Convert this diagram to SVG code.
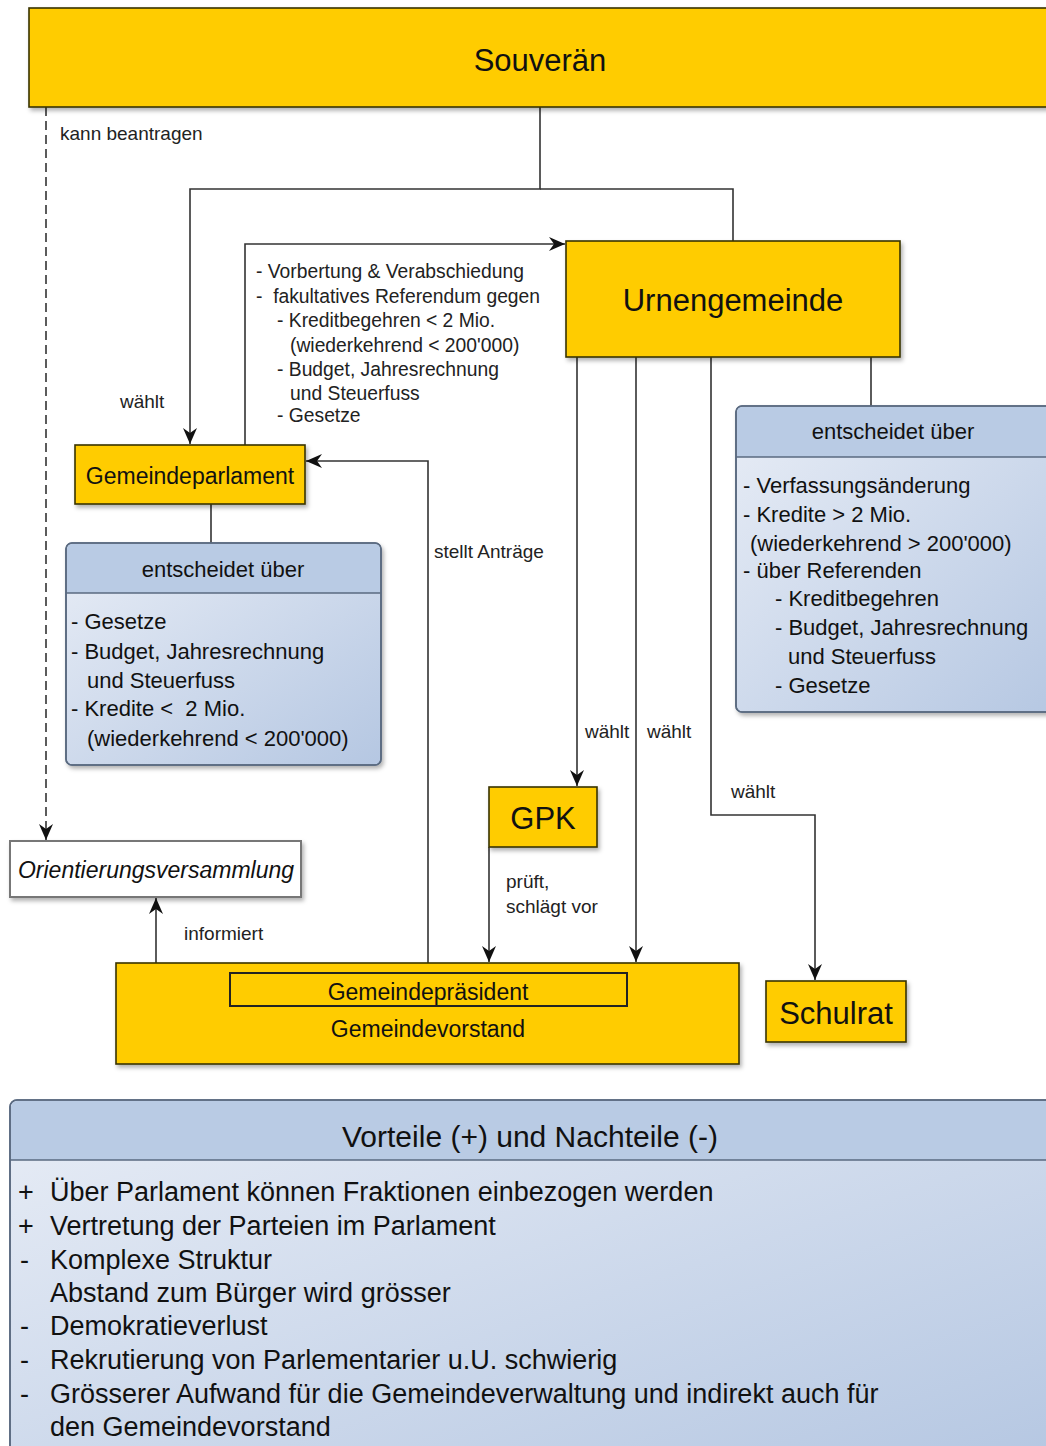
<svg xmlns="http://www.w3.org/2000/svg" width="1046" height="1446" viewBox="0 0 1046 1446">
<style>
text{font-family:"Liberation Sans",Arial,sans-serif;fill:#111}
.y{fill:#FFCC00;stroke:#3a3300;stroke-width:1.6}
.big{font-size:31px}
.mid{font-size:23px}
.lbl{font-size:19px;fill:#222}
.blk{font-size:19.3px;fill:#222;white-space:pre}
.item{font-size:22px;white-space:pre}
.bitem{font-size:27px}
.c{text-anchor:middle}
.ln{fill:none;stroke:#333;stroke-width:1.6}
.blue{stroke:#5a6a80;stroke-width:1.6}
.hdr{fill:#B9CBE4}
</style>
<defs>
<marker id="ah" markerUnits="userSpaceOnUse" markerWidth="16" markerHeight="16" viewBox="0 0 16 16" refX="16" refY="8" orient="auto">
<path d="M0,1 L16,8 L0,15 L5,8 z" fill="#111"/>
</marker>
<linearGradient id="bg" x1="0" y1="0" x2="1" y2="1">
<stop offset="0" stop-color="#E8EDF6"/>
<stop offset="1" stop-color="#B5C7E2"/>
</linearGradient>
<filter id="sh" x="-5%" y="-5%" width="115%" height="130%">
<feDropShadow dx="2" dy="3" stdDeviation="2" flood-color="#000" flood-opacity="0.3"/>
</filter>
</defs>

<g id="connectors">
<path class="ln" d="M540,107 V189 H190 V444" marker-end="url(#ah)"/>
<path class="ln" d="M540,189 H733 V241"/>
<path class="ln" d="M46,107 V840" stroke-dasharray="9,5" stroke="#555" marker-end="url(#ah)"/>
<path class="ln" d="M245,445 V244 H565" marker-end="url(#ah)"/>
<path class="ln" d="M211,504 V543"/>
<path class="ln" d="M871,357 V406"/>
<path class="ln" d="M577,357 V786" marker-end="url(#ah)"/>
<path class="ln" d="M636,357 V962" marker-end="url(#ah)"/>
<path class="ln" d="M711,357 V815 H815 V980" marker-end="url(#ah)"/>
<path class="ln" d="M489,847 V962" marker-end="url(#ah)"/>
<path class="ln" d="M428,963 V461 H306" marker-end="url(#ah)"/>
<path class="ln" d="M156,963 V898" stroke-width="2.2" stroke="#111" marker-end="url(#ah)"/>
<text class="lbl" x="60" y="140">kann beantragen</text>
<text class="lbl" x="120" y="408">wählt</text>
<text class="lbl" x="434" y="558">stellt Anträge</text>
<text class="lbl" x="585" y="738">wählt</text>
<text class="lbl" x="647" y="738">wählt</text>
<text class="lbl" x="731" y="798">wählt</text>
<text class="lbl" x="506" y="888">prüft,</text>
<text class="lbl" x="506" y="913">schlägt vor</text>
<text class="lbl" x="184" y="940">informiert</text>
<text class="blk" x="256" y="278" xml:space="preserve">- Vorbertung &amp; Verabschiedung</text>
<text class="blk" x="256" y="303" xml:space="preserve">-  fakultatives Referendum gegen</text>
<text class="blk" x="277" y="327" xml:space="preserve">- Kreditbegehren &lt; 2 Mio.</text>
<text class="blk" x="290" y="352">(wiederkehrend &lt; 200'000)</text>
<text class="blk" x="277" y="376">- Budget, Jahresrechnung</text>
<text class="blk" x="290" y="400">und Steuerfuss</text>
<text class="blk" x="277" y="422">- Gesetze</text>
</g>

<g id="souveraen">
<rect class="y" x="29" y="8" width="1030" height="99" filter="url(#sh)"/>
<text class="big c" x="540" y="71">Souverän</text>
</g>

<g id="urnengemeinde">
<rect class="y" x="566" y="241" width="334" height="116" filter="url(#sh)"/>
<text class="big c" x="733" y="311">Urnengemeinde</text>
</g>

<g id="gemeindeparlament">
<rect class="y" x="75" y="445" width="230" height="59" filter="url(#sh)"/>
<text class="mid c" x="190" y="484">Gemeindeparlament</text>
</g>

<g id="entscheidet-parlament">
<rect class="blue" x="66" y="543" width="315" height="222" rx="6" fill="url(#bg)" filter="url(#sh)"/>
<path class="hdr" d="M67,593 V549 Q67,544 72,544 H375 Q380,544 380,549 V593 Z"/>
<line class="blue" x1="66" y1="593" x2="381" y2="593"/>
<rect x="66" y="543" width="315" height="222" rx="6" fill="none" class="blue"/>
<text class="item c" x="223" y="577" fill="#222">entscheidet über</text>
<text class="item" x="71" y="629">- Gesetze</text>
<text class="item" x="71" y="659">- Budget, Jahresrechnung</text>
<text class="item" x="87" y="688">und Steuerfuss</text>
<text class="item" x="71" y="716" xml:space="preserve">- Kredite &lt;  2 Mio.</text>
<text class="item" x="87" y="746">(wiederkehrend &lt; 200'000)</text>
</g>

<g id="entscheidet-urnengemeinde">
<rect class="blue" x="736" y="406" width="330" height="306" rx="6" fill="url(#bg)" filter="url(#sh)"/>
<path class="hdr" d="M737,457 V412 Q737,407 742,407 H1066 V457 Z"/>
<line class="blue" x1="736" y1="457" x2="1066" y2="457"/>
<rect x="736" y="406" width="330" height="306" rx="6" fill="none" class="blue"/>
<text class="item c" x="893" y="439" fill="#222">entscheidet über</text>
<text class="item" x="743" y="493">- Verfassungsänderung</text>
<text class="item" x="743" y="522">- Kredite &gt; 2 Mio.</text>
<text class="item" x="750" y="551">(wiederkehrend &gt; 200'000)</text>
<text class="item" x="743" y="578">- über Referenden</text>
<text class="item" x="775" y="606">- Kreditbegehren</text>
<text class="item" x="775" y="635">- Budget, Jahresrechnung</text>
<text class="item" x="788" y="664">und Steuerfuss</text>
<text class="item" x="775" y="693">- Gesetze</text>
</g>

<g id="gpk">
<rect class="y" x="489" y="787" width="108" height="60" filter="url(#sh)"/>
<text class="big c" x="543" y="829">GPK</text>
</g>

<g id="orientierungsversammlung">
<rect x="10" y="841" width="291" height="56" fill="#fff" stroke="#777" stroke-width="2" filter="url(#sh)"/>
<text class="mid c" x="156" y="878" font-style="italic" font-size="22.5">Orientierungsversammlung</text>
</g>

<g id="gemeindevorstand">
<rect class="y" x="116" y="963" width="623" height="101" stroke="#222" stroke-width="2" filter="url(#sh)"/>
<rect x="230" y="973" width="397" height="33" fill="none" stroke="#222" stroke-width="2"/>
<text class="mid c" x="428" y="1000">Gemeindepräsident</text>
<text class="mid c" x="428" y="1037">Gemeindevorstand</text>
</g>

<g id="schulrat">
<rect class="y" x="766" y="981" width="140" height="61" filter="url(#sh)"/>
<text class="big c" x="836" y="1024">Schulrat</text>
</g>

<g id="vorteile-nachteile">
<rect x="10" y="1100" width="1060" height="360" rx="7" fill="url(#bg)" class="blue"/>
<path class="hdr" d="M11,1160 V1107 Q11,1101 17,1101 H1070 V1160 Z"/>
<line class="blue" x1="10" y1="1160" x2="1070" y2="1160"/>
<rect x="10" y="1100" width="1060" height="360" rx="7" fill="none" class="blue"/>
<text class="c" x="530" y="1147" font-size="30">Vorteile (+) und Nachteile (-)</text>
<text class="bitem" x="18" y="1201">+</text>
<text class="bitem" x="50" y="1201">Über Parlament können Fraktionen einbezogen werden</text>
<text class="bitem" x="18" y="1235">+</text>
<text class="bitem" x="50" y="1235">Vertretung der Parteien im Parlament</text>
<text class="bitem" x="20" y="1269">-</text>
<text class="bitem" x="50" y="1269">Komplexe Struktur</text>
<text class="bitem" x="50" y="1302">Abstand zum Bürger wird grösser</text>
<text class="bitem" x="20" y="1335">-</text>
<text class="bitem" x="50" y="1335">Demokratieverlust</text>
<text class="bitem" x="20" y="1369">-</text>
<text class="bitem" x="50" y="1369">Rekrutierung von Parlementarier u.U. schwierig</text>
<text class="bitem" x="20" y="1403">-</text>
<text class="bitem" x="50" y="1403">Grösserer Aufwand für die Gemeindeverwaltung und indirekt auch für</text>
<text class="bitem" x="50" y="1436">den Gemeindevorstand</text>
</g>
</svg>
